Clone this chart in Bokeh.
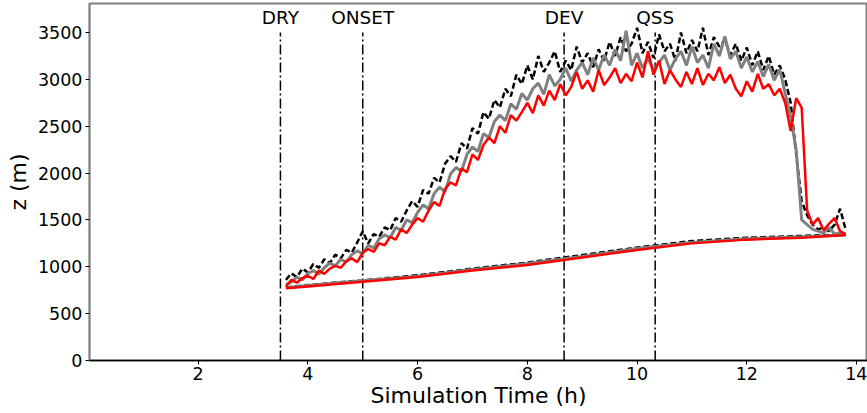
from bokeh.plotting import figure
from bokeh.models import Range1d, FixedTicker
from bokeh.embed import file_html
from bokeh.resources import INLINE
from bokeh.core.properties import value

# ---- data ----
# cloud-top time grid (h), 0.1 h sampling
top_time = [round(3.6 + 0.1 * i, 2) for i in range(103)]

red_top = [790, 860, 830, 880, 905, 870, 960, 925, 980, 1010,
           990, 1060, 1090, 1050, 1150, 1190, 1160, 1250, 1230, 1320,
           1290, 1400, 1360, 1450, 1520, 1480, 1600, 1690, 1650, 1830,
           1900, 1870, 2050, 2010, 2200, 2140, 2300, 2380, 2320, 2500,
           2430, 2620, 2560, 2650, 2750, 2640, 2830, 2720, 2880, 2780,
           2950, 2830, 2920, 3080, 2900, 2990, 2870, 3100, 2940, 3020,
           3120, 2960, 3060, 2980, 3180, 3020, 3300, 3050, 3200, 2950,
           3100, 3000, 2920, 3080, 2950, 3120, 2940, 3060, 2990, 3130,
           2960, 3050, 2900, 2820, 2980, 2870, 3060, 2900, 2950, 2830,
           2900, 2750, 2450, 2800, 2700, 1600, 1450, 1520, 1390, 1460,
           1520, 1380, 1350]

gray_top = [810, 840, 890, 860, 930, 960, 920, 990, 1040, 1010,
            1080, 1050, 1130, 1170, 1140, 1230, 1200, 1300, 1340, 1310,
            1420, 1390, 1500, 1470, 1580, 1660, 1620, 1780, 1850, 1800,
            1990, 2060, 2020, 2200, 2280, 2230, 2420, 2380, 2550, 2620,
            2560, 2740, 2680, 2850, 2780, 2900, 2960, 2840, 3050, 2930,
            3000, 3120, 2980, 3100, 3180, 3050, 3230, 3100, 3260, 3150,
            3320, 3200, 3520, 3150, 3280, 3120, 3230, 3100, 3180, 3260,
            3100, 3220, 3300, 3150, 3350, 3180, 3260, 3120, 3380, 3250,
            3460, 3220, 3300, 3120, 3240, 3080, 3190, 3030, 3160, 2990,
            3110, 2850, 2600, 2250, 1500, 1450, 1400, 1380, 1360, 1420,
            1350, 1360, 1350]

black_top = [860, 930, 890, 980, 940, 1030, 990, 1080, 1040, 1130,
             1090, 1180, 1150, 1260, 1380, 1250, 1350, 1320, 1420, 1390,
             1520, 1480, 1600, 1700, 1640, 1820, 1780, 1950, 1900, 2100,
             2180, 2120, 2320, 2260, 2480, 2420, 2650, 2580, 2780, 2700,
             2900, 2820, 3050, 2950, 3150, 3000, 3250, 3080, 3180, 3300,
             3080, 3200, 3100, 3350, 3180, 3280, 3130, 3320, 3200, 3400,
             3250, 3450, 3300, 3380, 3550, 3280, 3400, 3230, 3480, 3300,
             3380, 3200, 3500, 3280, 3420, 3300, 3550, 3260, 3450, 3350,
             3420, 3260, 3380, 3200, 3340, 3150, 3300, 3100, 3250, 3050,
             3150, 3000, 2750, 2200, 1700, 1550, 1450, 1400, 1420, 1380,
             1450, 1620, 1400]

# cloud-base
base_time = [3.6, 4.0, 5.0, 6.0, 7.0, 8.0, 9.0, 10.0, 11.0, 12.0, 13.0, 13.8]
red_base = [770, 790, 840, 890, 960, 1020, 1100, 1180, 1250, 1290, 1310, 1340]
gray_base = [775, 800, 850, 900, 970, 1035, 1110, 1195, 1260, 1300, 1320, 1340]
black_base = [780, 805, 855, 910, 980, 1045, 1125, 1205, 1275, 1310, 1330, 1345]

phase_names = ["DRY", "ONSET", "DEV", "QSS"]
phase_times = [3.5, 5.0, 8.67, 10.33]

x_ticks = [2, 4, 6, 8, 10, 12, 14]
y_ticks = [0, 500, 1000, 1500, 2000, 2500, 3000, 3500]

FONT = "DejaVu Sans"

p = figure(width=867, height=413, output_backend="svg", toolbar_location=None,
           x_range=Range1d(0.02, 14.2), y_range=Range1d(0, 3810),
           min_border_left=89, min_border_right=0, min_border_top=3,
           min_border_bottom=53)

p.xgrid.visible = False
p.ygrid.visible = False
p.outline_line_color = "#808080"
p.outline_line_width = 2
p.background_fill_color = "white"
p.border_fill_color = "white"

# phase markers
p.segment(x0=phase_times, y0=[0] * 4, x1=phase_times, y1=[3500] * 4,
          line_color="black", line_width=1.5, line_dash="10 3 2 3")
p.text(x=phase_times, y=[3665] * 4, text=phase_names,
       text_font=value(FONT), text_font_size="18.5px",
       text_align="center", text_baseline="middle", text_color="black")

# series: black (dashed), gray, red
p.line(base_time, black_base, line_color="black", line_width=2.5, line_dash="6 3")
p.line(top_time, black_top, line_color="black", line_width=2.5, line_dash="6 3")
p.line(base_time, gray_base, line_color="#808080", line_width=3)
p.line(top_time, gray_top, line_color="#808080", line_width=3)
p.line(base_time, red_base, line_color="#ff0000", line_width=2.5)
p.line(top_time, red_top, line_color="#ff0000", line_width=2.5)

# axes
p.xaxis.ticker = FixedTicker(ticks=x_ticks)
p.yaxis.ticker = FixedTicker(ticks=y_ticks)
p.xaxis.minor_tick_line_color = None
p.yaxis.minor_tick_line_color = None
p.xaxis.major_tick_in = 0
p.yaxis.major_tick_in = 0
p.xaxis.major_tick_out = 4
p.yaxis.major_tick_out = 4
p.xaxis.axis_line_color = "black"
p.yaxis.axis_line_color = "#808080"
p.xaxis.axis_line_width = 1.5
p.yaxis.axis_line_width = 1.5
p.xaxis.axis_label = "Simulation Time (h)"
p.yaxis.axis_label = "z (m)"
for ax in (p.xaxis, p.yaxis):
    ax.major_label_text_font = FONT
    ax.major_label_text_font_size = "17.5px"
    ax.major_label_text_color = "black"
    ax.axis_label_text_font = FONT
    ax.axis_label_text_font_size = "22px"
    ax.axis_label_text_font_style = "normal"
    ax.axis_label_text_color = "black"
    ax.major_tick_line_color = "black"
p.xaxis.axis_label_standoff = 0
p.yaxis.axis_label_standoff = 4
p.xaxis.major_label_standoff = 2
p.yaxis.major_label_standoff = 3

open("out.html", "w").write(file_html(p, INLINE))
